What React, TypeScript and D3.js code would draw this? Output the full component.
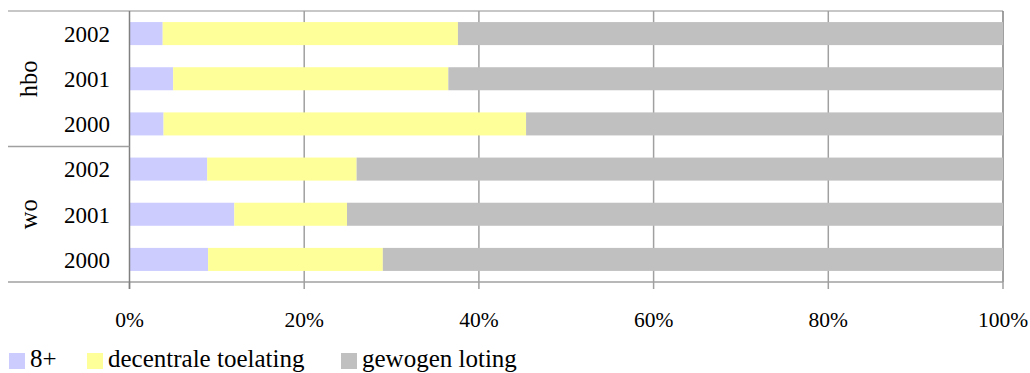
import React from "react";
import * as d3 from "d3";

const width = 1030;
const height = 373;
const margin = { top: 11, right: 27, bottom: 91, left: 129.5 };
const innerWidth = width - margin.left - margin.right;
const innerHeight = height - margin.top - margin.bottom;

// data (percentages)
const groups = ["hbo", "wo"];
const rowKeys = ["hbo-2002", "hbo-2001", "hbo-2000", "wo-2002", "wo-2001", "wo-2000"];
const seriesNames = ["8+", "decentrale toelating", "gewogen loting"];
const achtPlus = [3.8, 5.0, 3.9, 8.9, 12.0, 9.0];
const decentraal = [33.8, 31.5, 41.5, 17.1, 12.9, 20.0];
const gewogen = [62.4, 63.5, 54.6, 74.0, 75.1, 71.0];
const xTicks = [0, 0.2, 0.4, 0.6, 0.8, 1];
const colors = ["#ccccff", "#ffff99", "#c0c0c0"];

const legendX = [9, 87, 341];
const font = "'Liberation Serif', 'Times New Roman', serif";

export default function App() {
  const table = rowKeys.map((k, i) => {
    const total = achtPlus[i] + decentraal[i] + gewogen[i];
    return {
      key: k,
      [seriesNames[0]]: achtPlus[i] / total,
      [seriesNames[1]]: decentraal[i] / total,
      [seriesNames[2]]: gewogen[i] / total,
    };
  });

  const stack = d3.stack<any>().keys(seriesNames);
  const layers = stack(table);

  const x = d3.scaleLinear().domain([0, 1]).range([0, innerWidth]);
  const y = d3
    .scaleBand()
    .domain(rowKeys)
    .range([0, innerHeight])
    .paddingInner(0.49)
    .paddingOuter(0.245);
  const step = innerHeight / rowKeys.length;

  return (
    <div style={{ position: "absolute", left: 0, top: 0 }}>
      <svg width={width} height={height} style={{ display: "block", fontFamily: font }}>
        <rect width={width} height={height} fill="#fff" />
        <g transform={`translate(${margin.left},${margin.top})`}>
          {/* top border */}
          <line x1={-121.5} x2={innerWidth} y1={0} y2={0} stroke="#b4b4b4" strokeWidth={1.5} />
          {/* grid */}
          {xTicks.slice(1, -1).map((t) => (
            <line key={t} x1={x(t)} x2={x(t)} y1={0} y2={innerHeight} stroke="#a0a0a0" strokeWidth={1.5} />
          ))}
          <line x1={x(1)} x2={x(1)} y1={0} y2={innerHeight} stroke="#808080" strokeWidth={1.5} />

          {layers.map((layer, li) =>
            layer.map((d) => (
              <rect
                key={`${li}-${d.data.key}`}
                x={x(d[0])}
                y={y(d.data.key)}
                width={x(d[1]) - x(d[0])}
                height={y.bandwidth()}
                fill={colors[li]}
              />
            ))
          )}

          {/* bottom axis */}
          <line x1={-121.5} x2={innerWidth} y1={innerHeight} y2={innerHeight} stroke="#a0a0a0" strokeWidth={1.5} />
          {xTicks.map((t) => (
            <g key={t} transform={`translate(${x(t)},${innerHeight})`}>
              <line y2={7} stroke="#a0a0a0" strokeWidth={1.5} />
              <text y={45} textAnchor="middle" fontSize={21.5} fill="#000">
                {`${Math.round(t * 100)}%`}
              </text>
            </g>
          ))}

          {/* left axis */}
          <line x1={0} x2={0} y1={0} y2={innerHeight + 7} stroke="#808080" strokeWidth={1.5} />
          <line x1={-121.5} x2={0} y1={step * 3} y2={step * 3} stroke="#a0a0a0" strokeWidth={1.5} />
          {rowKeys.map((k) => (
            <text
              key={k}
              x={-19.5}
              y={(y(k) ?? 0) + y.bandwidth() / 2}
              dy="0.36em"
              textAnchor="end"
              fontSize={23}
              fill="#000"
            >
              {k.split("-")[1]}
            </text>
          ))}
          {groups.map((g, gi) => (
            <text
              key={g}
              transform={`translate(${-92.5},${step * 3 * gi + (step * 3) / 2}) rotate(-90)`}
              textAnchor="middle"
              fontSize={24.5}
              fill="#000"
            >
              {g}
            </text>
          ))}
        </g>

        {/* legend */}
        {seriesNames.map((s, i) => (
          <g key={s} transform={`translate(${legendX[i]},353)`}>
            <rect width={16} height={16} fill={colors[i]} />
            <text x={21} y={14} fontSize={25} fill="#000">
              {s}
            </text>
          </g>
        ))}
      </svg>
    </div>
  );
}
